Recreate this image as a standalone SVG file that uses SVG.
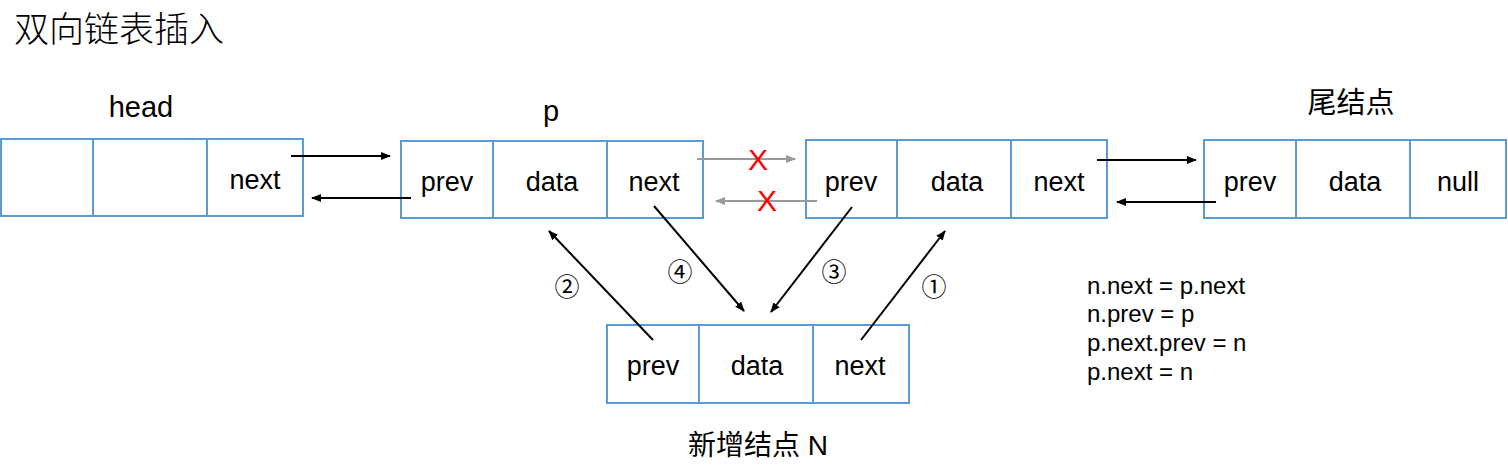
<svg xmlns="http://www.w3.org/2000/svg" width="1508" height="472" viewBox="0 0 1508 472">
<style>
text{font-family:"Liberation Sans","Noto Sans CJK SC",sans-serif;fill:#000}
.box{fill:#fff;stroke:#5b9bd5;stroke-width:2}
.div{stroke:#5b9bd5;stroke-width:2}
.cell{font-size:27px;text-anchor:middle}
.lbl{font-size:29px;text-anchor:middle}
.num{font-size:25px;text-anchor:middle;font-family:"Noto Sans CJK SC","DejaVu Sans",sans-serif}
.code{font-size:24px}
.c{stroke:#000;stroke-width:2;fill:none;marker-end:url(#ah)}
.g{stroke:#999;stroke-width:2;fill:none;marker-end:url(#ahg)}
.x{font-size:30px;fill:#f00;text-anchor:middle}
</style>
<defs>
<marker id="ah" markerWidth="10" markerHeight="8" refX="9" refY="4" orient="auto" markerUnits="userSpaceOnUse"><path d="M0,0 L10,4 L0,8 z" fill="#000"/></marker>
<marker id="ahg" markerWidth="10" markerHeight="8" refX="9" refY="4" orient="auto" markerUnits="userSpaceOnUse"><path d="M0,0 L10,4 L0,8 z" fill="#999"/></marker>
</defs>
<text x="14" y="42" style="font-size:35px;font-weight:300">双向链表插入</text>
<g id="head">
<text class="lbl" x="141" y="117">head</text>
<rect class="box" x="1" y="139" width="302" height="77"/>
<line class="div" x1="93" y1="139" x2="93" y2="216"/>
<line class="div" x1="207" y1="139" x2="207" y2="216"/>
<text class="cell" x="255" y="189">next</text>
</g>
<g id="p">
<text class="lbl" x="551" y="121">p</text>
<rect class="box" x="401" y="141" width="302" height="77"/>
<line class="div" x1="493" y1="141" x2="493" y2="218"/>
<line class="div" x1="607" y1="141" x2="607" y2="218"/>
<text class="cell" x="447" y="191">prev</text>
<text class="cell" x="552" y="191">data</text>
<text class="cell" x="654" y="191">next</text>
</g>
<g id="pnext">
<rect class="box" x="806" y="140" width="301" height="78"/>
<line class="div" x1="897" y1="140" x2="897" y2="218"/>
<line class="div" x1="1011" y1="140" x2="1011" y2="218"/>
<text class="cell" x="851" y="191">prev</text>
<text class="cell" x="957" y="191">data</text>
<text class="cell" x="1059" y="191">next</text>
</g>
<g id="tail">
<text class="lbl" x="1351" y="113">尾结点</text>
<rect class="box" x="1204" y="140" width="302" height="78"/>
<line class="div" x1="1296" y1="140" x2="1296" y2="218"/>
<line class="div" x1="1410" y1="140" x2="1410" y2="218"/>
<text class="cell" x="1250" y="191">prev</text>
<text class="cell" x="1355" y="191">data</text>
<text class="cell" x="1458" y="191">null</text>
</g>
<g id="n">
<rect class="box" x="607" y="325" width="302" height="78"/>
<line class="div" x1="699" y1="325" x2="699" y2="403"/>
<line class="div" x1="813" y1="325" x2="813" y2="403"/>
<text class="cell" x="653" y="375">prev</text>
<text class="cell" x="757" y="375">data</text>
<text class="cell" x="860" y="375">next</text>
<text class="lbl" x="758" y="455" style="font-size:28px">新增结点 N</text>
</g>
<g id="connectors">
<line class="c" x1="291" y1="156" x2="390" y2="156"/>
<line class="c" x1="411" y1="198" x2="312" y2="198"/>
<line class="g" x1="697" y1="159" x2="795" y2="159"/>
<line class="g" x1="817" y1="201" x2="716" y2="201"/>
<line class="c" x1="1097" y1="160" x2="1196" y2="160"/>
<line class="c" x1="1216" y1="202" x2="1117" y2="202"/>
<line class="c" x1="653" y1="340" x2="549" y2="231"/>
<line class="c" x1="654" y1="206" x2="744" y2="311"/>
<line class="c" x1="852" y1="207" x2="771" y2="312"/>
<line class="c" x1="861" y1="340" x2="945" y2="231"/>
<text class="x" x="758" y="170">X</text>
<text class="x" x="767" y="211">X</text>
<text class="num" x="567" y="296">②</text>
<text class="num" x="680" y="281">④</text>
<text class="num" x="834" y="281">③</text>
<text class="num" x="934" y="296">①</text>
</g>
<g id="code">
<text class="code" x="1087" y="294">n.next = p.next</text>
<text class="code" x="1087" y="322">n.prev = p</text>
<text class="code" x="1087" y="351">p.next.prev = n</text>
<text class="code" x="1087" y="380">p.next = n</text>
</g>
</svg>
